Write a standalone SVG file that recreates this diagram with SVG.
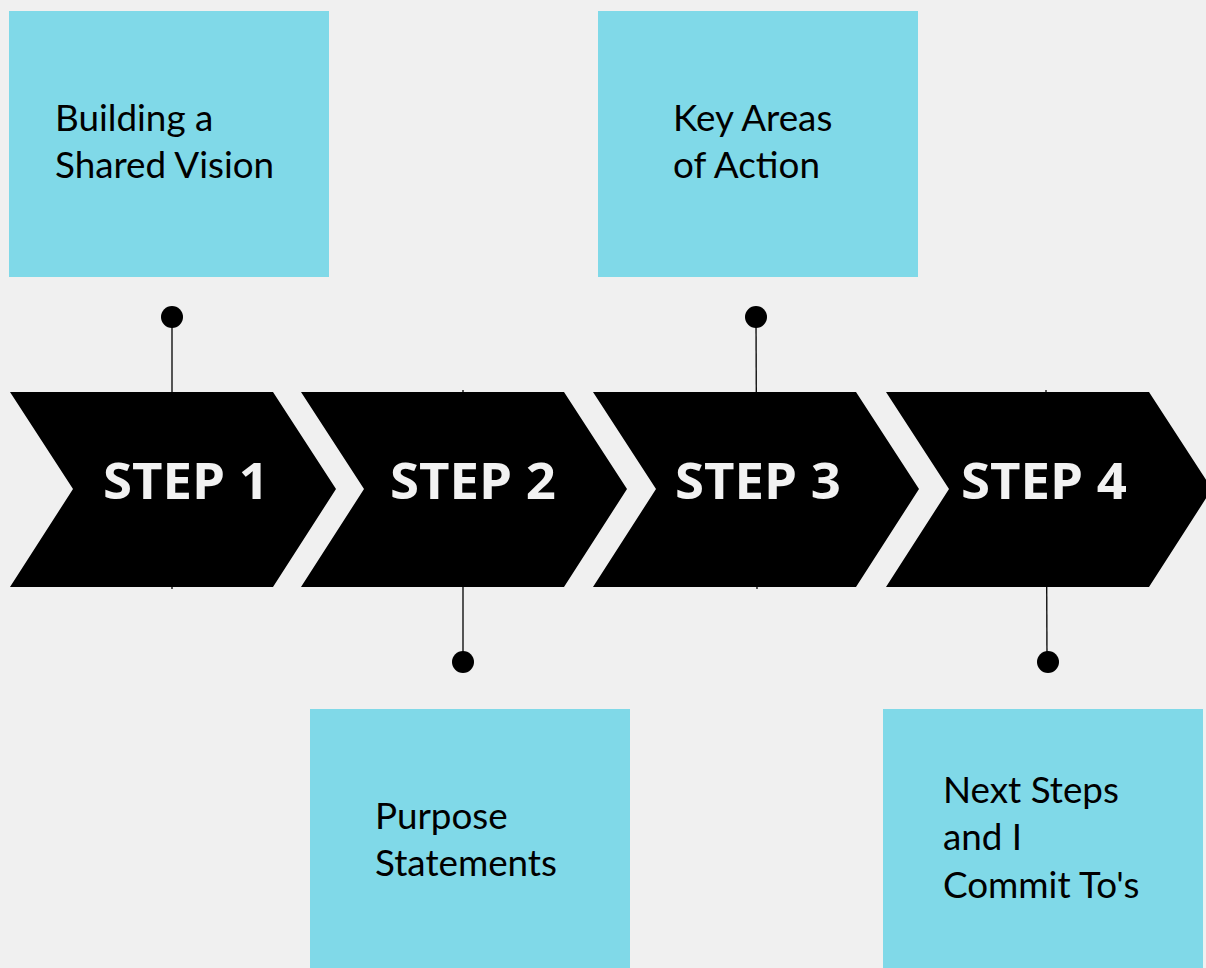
<svg xmlns="http://www.w3.org/2000/svg" width="1206" height="968" viewBox="0 0 1206 968">
<style>
.box{fill:#80d9e8}
.lbl{font-family:Lato,"Open Sans",sans-serif;font-size:36.8px;fill:#000}
.chev{fill:#000}
.step{font-family:"Open Sans","Liberation Sans",sans-serif;font-weight:bold;font-size:51px;fill:#f2f2f2;text-anchor:middle}
.ln{stroke:#000;stroke-width:1.3;fill:none}
.dot{fill:#000}
</style>
<rect width="1206" height="968" fill="#f0f0f0"/>
<g id="connectors">
<line class="ln" x1="172" y1="317" x2="172" y2="589"/>
<line class="ln" x1="463" y1="390" x2="463" y2="662"/>
<line class="ln" x1="756" y1="317" x2="757" y2="589"/>
<line class="ln" x1="1046" y1="390" x2="1047" y2="662"/>
<circle class="dot" cx="172" cy="317" r="11"/>
<circle class="dot" cx="463" cy="662" r="11"/>
<circle class="dot" cx="756" cy="317" r="11"/>
<circle class="dot" cx="1048" cy="662" r="11"/>
</g>
<g id="step1">
<polygon class="chev" points="10,392 273,392 336,489 273,587 10,587 73,489"/>
<text class="step" x="186" y="499" textLength="166" lengthAdjust="spacingAndGlyphs">STEP 1</text>
</g>
<g id="step2">
<polygon class="chev" points="301,392 564,392 627,489 564,587 301,587 364,489"/>
<text class="step" x="473" y="499" textLength="166" lengthAdjust="spacingAndGlyphs">STEP 2</text>
</g>
<g id="step3">
<polygon class="chev" points="593,392 856,392 919,489 856,587 593,587 656,489"/>
<text class="step" x="758" y="499" textLength="166" lengthAdjust="spacingAndGlyphs">STEP 3</text>
</g>
<g id="step4">
<polygon class="chev" points="886,392 1149,392 1212,489 1149,587 886,587 949,489"/>
<text class="step" x="1044" y="499" textLength="166" lengthAdjust="spacingAndGlyphs">STEP 4</text>
</g>
<g id="box1">
<rect class="box" x="9" y="11" width="320" height="266"/>
<text class="lbl" x="55" y="131">Building a</text>
<text class="lbl" x="55" y="178">Shared Vision</text>
</g>
<g id="box3">
<rect class="box" x="598" y="11" width="320" height="266"/>
<text class="lbl" x="673" y="131">Key Areas</text>
<text class="lbl" x="673" y="178">of Action</text>
</g>
<g id="box2">
<rect class="box" x="310" y="709" width="320" height="259"/>
<text class="lbl" x="375" y="829">Purpose</text>
<text class="lbl" x="375" y="876">Statements</text>
</g>
<g id="box4">
<rect class="box" x="883" y="709" width="320" height="259"/>
<text class="lbl" x="943" y="803">Next Steps</text>
<text class="lbl" x="943" y="850">and I</text>
<text class="lbl" x="943" y="898">Commit To's</text>
</g>
</svg>
